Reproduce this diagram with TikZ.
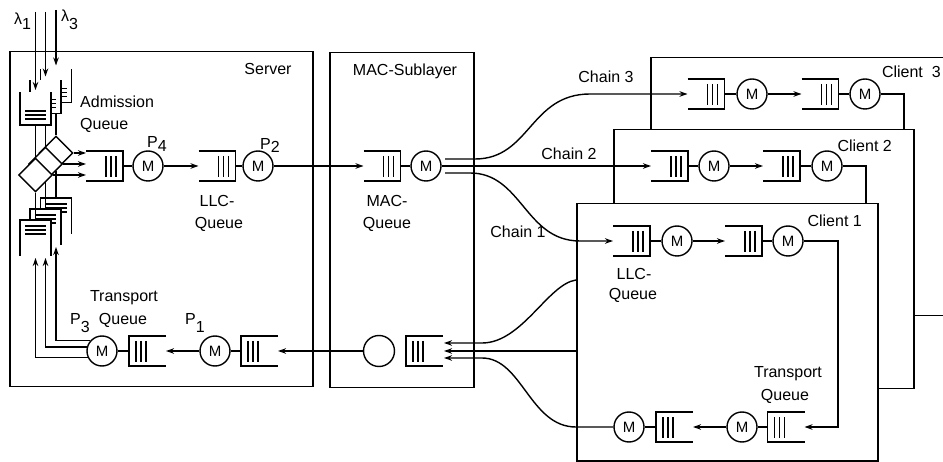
\documentclass[tikz,border=0pt]{standalone}
\usepackage{fontspec}
\setmainfont{Liberation Sans}
\usetikzlibrary{arrows.meta,shapes.geometric,calc}
\tikzset{
  ln/.style={line width=1.4pt},
  bar/.style={line width=1.1pt},
  arr/.style={line width=1.4pt,-{Stealth[length=8pt,width=5.5pt]}},
  mm/.style={circle,draw,line width=1.4pt,minimum size=30pt,inner sep=0pt,fill=white,font=\fontsize{15}{15}\selectfont},
  qbox/.style={rectangle,minimum width=37pt,minimum height=30pt,inner sep=0pt,outer sep=0pt},
  vq/.style={rectangle,minimum width=31pt,inner sep=0pt,outer sep=0pt,fill=white},
  dia/.style={diamond,draw,fill=white,line width=1.4pt,minimum width=34pt,minimum height=34pt,inner sep=0pt},
  lbl/.style={font=\fontsize{16}{19}\selectfont,inner sep=0pt},
  panel/.style={draw,fill=white,line width=1.5pt,rectangle,inner sep=0pt,anchor=north west}
}
\newcommand\sbx[2]{\raisebox{-#2}{#1}}
% queue open at left
\newcommand\qOL[3]{%
  \node[qbox] (#1) at (#2,#3) {};
  \draw[ln] (#1.north west) -- (#1.north east) -- (#1.south east) -- (#1.south west);
  \foreach \qq in {7,12,17}{\draw[bar] ([xshift=-\qq pt,yshift=-5pt]#1.north east) -- ([xshift=-\qq pt,yshift=4pt]#1.south east);}%
}
% queue open at right
\newcommand\qOR[3]{%
  \node[qbox] (#1) at (#2,#3) {};
  \draw[ln] (#1.north east) -- (#1.north west) -- (#1.south west) -- (#1.south east);
  \foreach \qq in {7,12,17}{\draw[bar] ([xshift=\qq pt,yshift=-5pt]#1.north west) -- ([xshift=\qq pt,yshift=4pt]#1.south west);}%
}
% queue open at top
\newcommand\qOT[4]{%
  \node[vq,minimum height=#4pt] (#1) at (#2,#3) {};
  \draw[ln] (#1.north west) -- (#1.south west) -- (#1.south east) -- (#1.north east);
  \foreach \qq in {6,10,14}{\draw[bar] ([xshift=5pt,yshift=\qq pt]#1.south west) -- ([xshift=-5pt,yshift=\qq pt]#1.south east);}%
}
% queue open at bottom
\newcommand\qOB[4]{%
  \node[vq,minimum height=#4pt] (#1) at (#2,#3) {};
  \draw[ln] (#1.south west) -- (#1.north west) -- (#1.north east) -- (#1.south east);
  \foreach \qq in {6,10,14}{\draw[bar] ([xshift=5pt,yshift=-\qq pt]#1.north west) -- ([xshift=-5pt,yshift=-\qq pt]#1.north east);}%
}
\begin{document}
\begin{tikzpicture}[x=1pt,y=-1pt]
\useasboundingbox (0,0) rectangle (943,462);
\clip (0,0) rectangle (943,462);

% ---------- Server and MAC panels ----------
\node[panel,minimum width=303pt,minimum height=335pt] (server) at (9,51) {};
\node[panel,minimum width=144pt,minimum height=335pt] (mac) at (329,52) {};
\node[lbl,anchor=base] (tserver) at (268,75) {Server};
\node[lbl,anchor=base] (tmac) at (405,76) {MAC-Sublayer};

% MAC contents
\qOL{macQ}{382}{166}
\node[mm] (macM) at (426,166) {M};
\draw[ln] (macQ.east) -- (macM.west);
\node[lbl,anchor=base] (tmac1) at (387,207) {MAC-};
\node[lbl,anchor=base] (tmac2) at (387,229) {Queue};
\qOR{macB}{424.5}{351}
\node[circle,draw,line width=1.4pt,minimum size=31pt,inner sep=0pt] (macC) at (379,351) {};

% ---------- Client 3 ----------
\node[panel,minimum width=330pt,minimum height=258pt] (client3) at (650,57) {};
\node[lbl,anchor=base east] (tc3) at (941,78) {Client\hspace{9pt}3};
\qOL{c3q1}{706}{94}
\node[mm] (c3m1) at (752,94) {M};
\qOL{c3q2}{820}{94}
\node[mm] (c3m2) at (865,94) {M};
\draw[ln] (c3q1.east) -- (c3m1.west);
\draw[arr] (c3m1.east) -- (c3q2.west);
\draw[ln] (c3q2.east) -- (c3m2.west);
\coordinate (c3r) at (904,129);
\draw[ln] (c3m2.east) -| (c3r);
\coordinate (o3) at (445,159);
\draw[arr] (o3) -- (475,159) .. controls (530,159) and (530,94) .. (590,94) -- (c3q1.west);
\node[lbl,anchor=base] (tch3) at (606,83) {Chain 3};

% ---------- Client 2 ----------
\node[panel,minimum width=300pt,minimum height=259pt] (client2) at (613,129) {};
\node[lbl,anchor=base east] (tc2) at (892,152) {Client 2};
\qOL{c2q1}{669.5}{166}
\node[mm] (c2m1) at (714,166) {M};
\qOL{c2q2}{781.5}{166}
\node[mm] (c2m2) at (827,166) {M};
\draw[ln] (c2q1.east) -- (c2m1.west);
\draw[arr] (c2m1.east) -- (c2q2.west);
\draw[ln] (c2q2.east) -- (c2m2.west);
\coordinate (c2r) at (866,203);
\draw[ln] (c2m2.east) -| (c2r);
\draw[arr] (macM.east) -- (c2q1.west);
\node[lbl,anchor=base] (tch2) at (569,160) {Chain 2};

% ---------- Client 1 ----------
\node[panel,minimum width=301pt,minimum height=257pt] (client1) at (576,203) {};
\node[lbl,anchor=base east] (tc1) at (862,227) {Client 1};
\qOL{c1q1}{631.5}{241}
\node[mm] (c1m1) at (677,241) {M};
\qOL{c1q2}{743.5}{241}
\node[mm] (c1m2) at (788,241) {M};
\draw[ln] (c1q1.east) -- (c1m1.west);
\draw[arr] (c1m1.east) -- (c1q2.west);
\draw[ln] (c1q2.east) -- (c1m2.west);
\node[lbl,anchor=base] (tc1l1) at (634,280) {LLC-};
\node[lbl,anchor=base] (tc1l2) at (633,300) {Queue};
\qOR{c1tq}{786}{427}
\node[mm] (c1tm) at (742,427) {M};
\qOR{c1tq2}{674.5}{427}
\node[mm] (c1tm2) at (629,427) {M};
\node[lbl,anchor=base] (tc1t1) at (788,378) {Transport};
\node[lbl,anchor=base] (tc1t2) at (785,400) {Queue};
\coordinate (c1turn) at (838,427);
\draw[arr] (c1m2.east) -| (c1turn) -- (c1tq.east);
\draw[ln] (c1tq.west) -- (c1tm.east);
\draw[arr] (c1tm.west) -- (c1tq2.east);
\draw[ln] (c1tq2.west) -- (c1tm2.east);
\coordinate (o1) at (445,173);
\draw[arr] (o1) -- (470,173) .. controls (522,173) and (525,241) .. (580,241) -- (c1q1.west);
\node[lbl,anchor=base] (tch1) at (518,238) {Chain 1};

% returns into MAC
\coordinate (mi1) at (444,343);
\coordinate (mi2) at (444,351);
\coordinate (mi3) at (444,358);
\coordinate (r2) at (576,280);
\coordinate (r3) at (576,351);
\draw[arr] (r2) .. controls (548,284) and (522,343) .. (482,343) -- (mi1);
\draw[arr] (r3) -- (mi2);
\draw[arr] (c1tm2.west) -- (576,427) .. controls (530,427) and (522,358) .. (482,358) -- (mi3);

% ---------- Server contents ----------
\qOL{qA}{104.5}{166}
\node[mm] (P4) at (148,166) {M};
\qOL{qL}{217}{166}
\node[mm] (P2) at (258,166) {M};
\draw[ln] (qA.east) -- (P4.west);
\draw[arr] (P4.east) -- (qL.west);
\draw[ln] (qL.east) -- (P2.west);
\draw[arr] (P2.east) -- (macQ.west);
\node[lbl,anchor=base west] (tp4) at (147,148) {P\sbx{4}{4pt}};
\node[lbl,anchor=base west] (tp2) at (260,150) {P\sbx{2}{3pt}};
\node[lbl,anchor=base] (tllc1) at (217,207) {LLC-};
\node[lbl,anchor=base] (tllc2) at (219,229) {Queue};
\node[lbl,anchor=base west] (tadm1) at (80,108) {Admission};
\node[lbl,anchor=base west] (tadm2) at (80,130) {Queue};

\qOR{sq1}{259.5}{351}
\node[mm] (P1) at (215,351) {M};
\qOR{sq2}{147.5}{351}
\node[mm] (P3) at (102,351) {M};
\draw[arr] (macC.west) -- (sq1.east);
\draw[ln] (sq1.west) -- (P1.east);
\draw[arr] (P1.west) -- (sq2.east);
\draw[ln] (sq2.west) -- (P3.east);
\node[lbl,anchor=base west] (tp3) at (70,325) {P\sbx{3}{8pt}};
\node[lbl,anchor=base west] (tp1) at (185,325) {P\sbx{1}{8pt}};
\node[lbl,anchor=base] (ttr1) at (124,302) {Transport};
\node[lbl,anchor=base] (ttr2) at (123,325) {Queue};

% left stack, back to front
% layer 3
\qOT{A3}{56}{86}{33}
\node[dia] (D3) at (56,153) {};
\qOB{B3}{56}{216}{36}
\draw[ln] (A3.south) -- (D3.north);
\draw[ln] (D3.south) -- (B3.north);
\draw[arr] (D3.east) -- (D3.east -| qA.west);
% layer 2
\qOT{A2}{45.5}{97}{33}
\node[dia] (D2) at (45.5,164) {};
\qOB{B2}{45.5}{227}{36}
\draw[ln] (A2.south) -- (D2.north);
\draw[ln] (D2.south) -- (B2.north);
\draw[arr] (D2.east) -- (D2.east -| qA.west);
% layer 1
\qOT{A1}{35.5}{108.5}{33}
\node[dia] (D1) at (35.5,175) {};
\qOB{B1}{35.5}{238}{36}
\draw[ln] (A1.south) -- (D1.north);
\draw[ln] (D1.south) -- (B1.north);
\draw[arr] (D1.east) -- (D1.east -| qA.west);

% arrivals
\coordinate (l1) at (35.5,12);
\coordinate (l2) at (45.5,12);
\coordinate (l3) at (56,10);
\draw[arr] (l1) -- ([yshift=2pt]A1.north);
\draw[arr] (l2) -- ([yshift=4pt]A2.north);
\draw[arr] (l3) -- ([yshift=4pt]A3.north);
\node[lbl,anchor=base west] (tl1) at (14,25) {λ\sbx{1}{5pt}};
\node[lbl,anchor=base west] (tl3) at (61,22) {λ\sbx{3}{8pt}};

% P3 feedback
\coordinate (t3) at (56,247);
\coordinate (t2) at (45.5,258);
\coordinate (t1) at (35.5,258);
\draw[arr] (P3.138) -| (t3);
\draw[arr] (P3.165) -| (t2);
\draw[arr] (P3.204) -| (t1);
\end{tikzpicture}
\end{document}
